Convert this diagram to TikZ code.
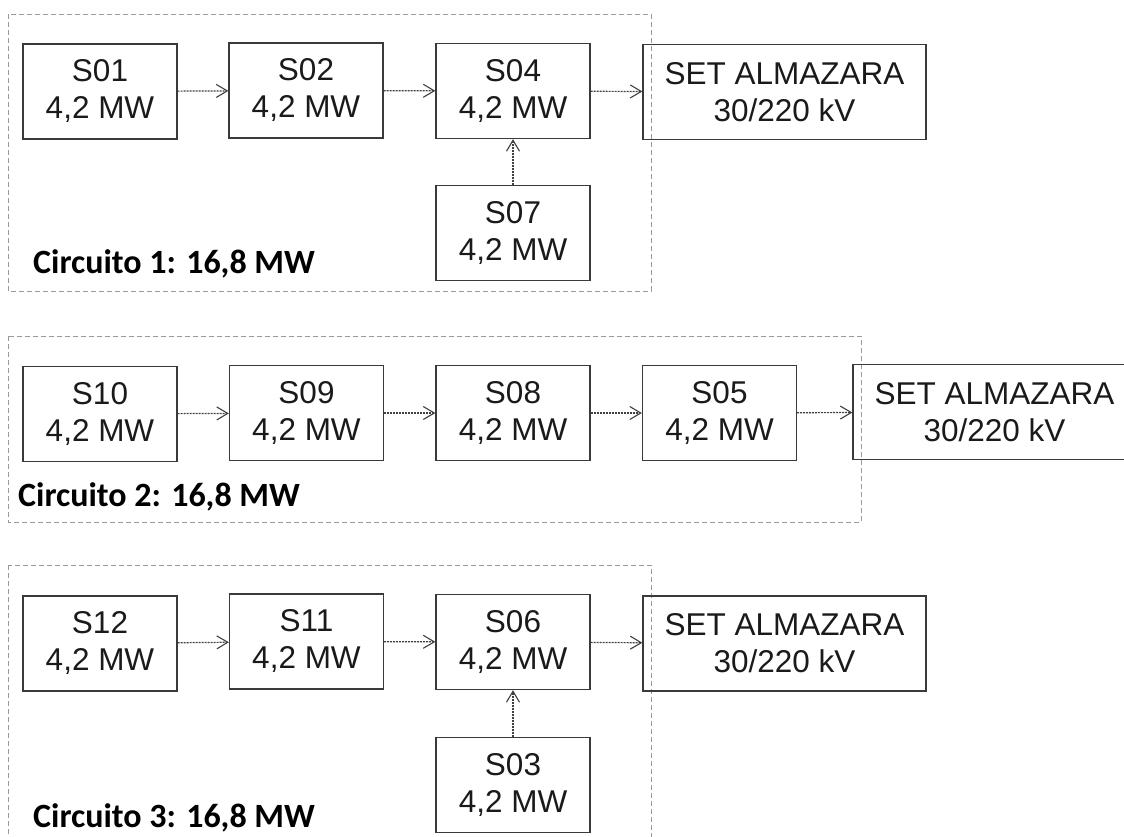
\documentclass[tikz,border=0pt]{standalone}
\usepackage{fontspec}
\setmainfont{Liberation Sans}
\newfontfamily\calib{Carlito}
\usetikzlibrary{arrows.meta}
\definecolor{boxline}{HTML}{3A3A3A}
\definecolor{frameline}{HTML}{9A9A9A}
\definecolor{linkline}{HTML}{404040}
\definecolor{txt}{HTML}{1A1A1A}
\tikzset{
  unit/.style={draw=boxline, line width=1.3pt, rectangle, inner sep=0pt,
    minimum width=154pt, minimum height=95pt, align=center, text=txt,
    font=\fontsize{31.5}{37}\selectfont},
  setbox/.style={unit, minimum width=283pt},
  frame/.style={draw=frameline, line width=1pt, dash pattern=on 5pt off 3pt},
  link/.style={draw=linkline, line width=1.2pt, dash pattern=on 2pt off 1pt,
    -{Straight Barb[length=11pt,width=13pt,line width=1.1pt]}},
  circlabel/.style={anchor=base west, inner sep=0pt,
    font=\calib\bfseries\fontsize{34}{40}\selectfont}
}
\begin{document}
\begin{tikzpicture}[x=1pt,y=-1pt]
\useasboundingbox (0,0) rectangle (1124,836);
\clip (0,0) rectangle (1124,836);
\fill[white] (0,0) rectangle (1124,836);

% ---- Circuit 1
\draw[frame] (8,14) rectangle (651,291);
\node[unit] (s01) at (100,91.5) {S01\\4,2 MW};
\node[unit] (s02) at (306,90.5) {S02\\4,2 MW};
\node[unit] (s04) at (513,91) {S04\\4,2 MW};
\node[unit] (s07) at (513,233) {S07\\4,2 MW};
\node[setbox] (set1) at (784.5,92) {SET ALMAZARA\\30/220 kV};
\node[circlabel] (lab1) at (33,273) {Circuito 1: 16,8 MW};
\draw[link] (s01) -- (s02);
\draw[link] (s02) -- (s04);
\draw[link] (s04) -- (set1);
\draw[link] (s07) -- (s04);

% ---- Circuit 2
\draw[frame] (8,336) rectangle (861,522);
\node[unit] (s10) at (100,414) {S10\\4,2 MW};
\node[unit] (s09) at (306.5,413) {S09\\4,2 MW};
\node[unit] (s08) at (513,413) {S08\\4,2 MW};
\node[unit] (s05) at (719.5,413) {S05\\4,2 MW};
\node[setbox] (set2) at (994.5,412) {SET ALMAZARA\\30/220 kV};
\node[circlabel] (lab2) at (18,506) {Circuito 2: 16,8 MW};
\draw[link] (s10) -- (s09);
\draw[link] (s09) -- (s08);
\draw[link] (s08) -- (s05);
\draw[link] (s05) -- (set2);

% ---- Circuit 3
\draw[frame] (8,565) rectangle (651,860);
\node[unit] (s12) at (100,643.5) {S12\\4,2 MW};
\node[unit] (s11) at (306.5,641.5) {S11\\4,2 MW};
\node[unit] (s06) at (513,642) {S06\\4,2 MW};
\node[unit] (s03) at (513,785) {S03\\4,2 MW};
\node[setbox] (set3) at (784.5,643.5) {SET ALMAZARA\\30/220 kV};
\node[circlabel] (lab3) at (33,827) {Circuito 3: 16,8 MW};
\draw[link] (s12) -- (s11);
\draw[link] (s11) -- (s06);
\draw[link] (s06) -- (set3);
\draw[link] (s03) -- (s06);
\end{tikzpicture}
\end{document}
